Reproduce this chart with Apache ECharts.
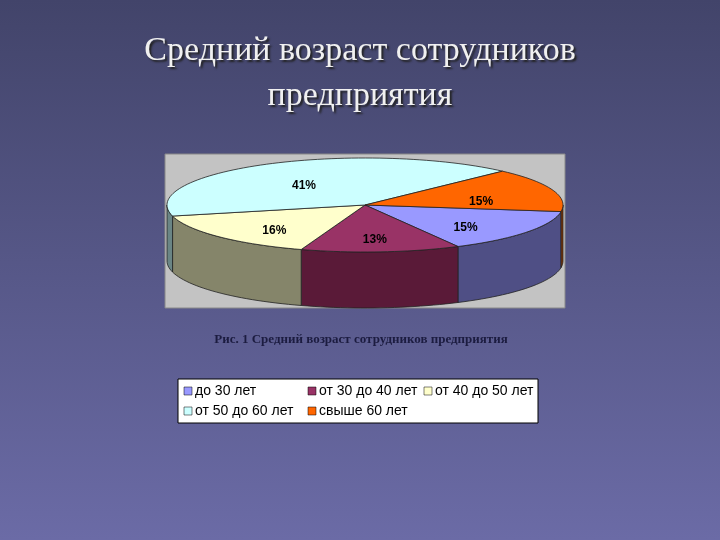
<!DOCTYPE html>
<html><head><meta charset="utf-8">
<script src="https://cdn.jsdelivr.net/npm/echarts@6/dist/echarts.min.js"></script>
<style>html,body{margin:0;padding:0}#c{width:720px;height:540px}</style></head>
<body><div id="c"></div>
<script>
var categories = ['до 30 лет','от 30 до 40 лет','от 40 до 50 лет','от 50 до 60 лет','свыше 60 лет'];
var values = [15, 13, 16, 41, 15];
var topColors = ['#9999ff','#993366','#ffffcc','#ccffff','#ff6600'];
var sideColors = ['#4f4f85','#5a1a38','#85856a','#6a8585','#853500'];

var cx = 365, cy = 205, rx = 198, ry = 47, depth = 56, startDeg = 8;
var total = values.reduce(function(a,b){return a+b;},0);
function angles(i){
  var s = 0; for (var k=0;k<i;k++) s += values[k];
  var a = startDeg + s/total*360, b = a + values[i]/total*360;
  return [a,b];
}
function pt(d, dy){ var r=d*Math.PI/180; return [cx+rx*Math.cos(r), cy+ry*Math.sin(r)+(dy||0)]; }
function arc(a,b,dy){ var p=[]; var n=Math.max(2,Math.ceil((b-a)/2)); for(var j=0;j<=n;j++){p.push(pt(a+(b-a)*j/n,dy));} return p; }

function renderSide(params, api){
  var i = params.dataIndex; var ab = angles(i);
  var children = [];
  [[0,180],[360,540]].forEach(function(rg){
    var a=Math.max(ab[0],rg[0]), b=Math.min(ab[1],rg[1]);
    if (b>a){
      var top = arc(a,b,0), bot = arc(a,b,depth).reverse();
      children.push({type:'polygon',shape:{points:top.concat(bot)},style:{fill:sideColors[i],stroke:'#222',lineWidth:0.8}});
    }
  });
  return {type:'group',children:children};
}
function renderTop(params, api){
  var i = params.dataIndex; var ab = angles(i);
  var pts = [[cx,cy]].concat(arc(ab[0],ab[1],0));
  var mid = (ab[0]+ab[1])/2; var lp = [cx+rx*0.62*Math.cos(mid*Math.PI/180), cy+ry*0.62*Math.sin(mid*Math.PI/180)+6];
  return {type:'group',children:[
    {type:'polygon',shape:{points:pts},style:{fill:topColors[i],stroke:'#222',lineWidth:0.8}},
    {type:'text',x:lp[0],y:lp[1],style:{text:Math.round(api.value(0)/total*100)+'%',font:'bold 12px Liberation Sans',fill:'#000',align:'center',verticalAlign:'middle'}}
  ]};
}

var legendGraphics = [];
var pos = [[184,391],[308,391],[424,391],[184,411],[308,411]];
categories.forEach(function(c,i){
  legendGraphics.push({type:'rect',shape:{x:pos[i][0],y:pos[i][1]-4,width:8,height:8},style:{fill:topColors[i],stroke:'#000',lineWidth:0.5},z:10});
  legendGraphics.push({type:'text',x:pos[i][0]+11,y:pos[i][1],style:{text:c,font:'14px Liberation Sans',fill:'#000',verticalAlign:'middle'},z:10});
});

var chart = echarts.init(document.getElementById('c'));
chart.setOption({
  backgroundColor:{type:'linear',x:0,y:0,x2:0,y2:1,colorStops:[{offset:0,color:'#42446a'},{offset:1,color:'#6b6ba6'}]},
  title:{text:'Средний возраст сотрудников\nпредприятия',left:'center',top:24,textStyle:{fontFamily:'Liberation Serif',fontSize:34,fontWeight:'normal',color:'#f0f0f0',lineHeight:45,textShadowColor:'#222',textShadowBlur:2,textShadowOffsetX:2,textShadowOffsetY:2}},
  graphic:[
    {type:'rect',shape:{x:165,y:154,width:400,height:154},style:{fill:'#c3c3c3',stroke:'#888',lineWidth:1},z:-1},
    {type:'text',x:361,y:340,style:{text:'Рис. 1 Средний возраст сотрудников предприятия',font:'bold 13px Liberation Serif',fill:'#1c1c40',align:'center',verticalAlign:'middle'}},
    {type:'rect',shape:{x:178,y:379,width:360,height:44},style:{fill:'#fff',stroke:'#000',lineWidth:1},z:9}
  ].concat(legendGraphics),
  series:[
    {type:'custom',coordinateSystem:'none',z:1,renderItem:renderSide,data:values.map(function(v){return [v];})},
    {type:'custom',coordinateSystem:'none',z:2,renderItem:renderTop,data:values.map(function(v){return [v];})}
  ]
});
</script></body></html>
